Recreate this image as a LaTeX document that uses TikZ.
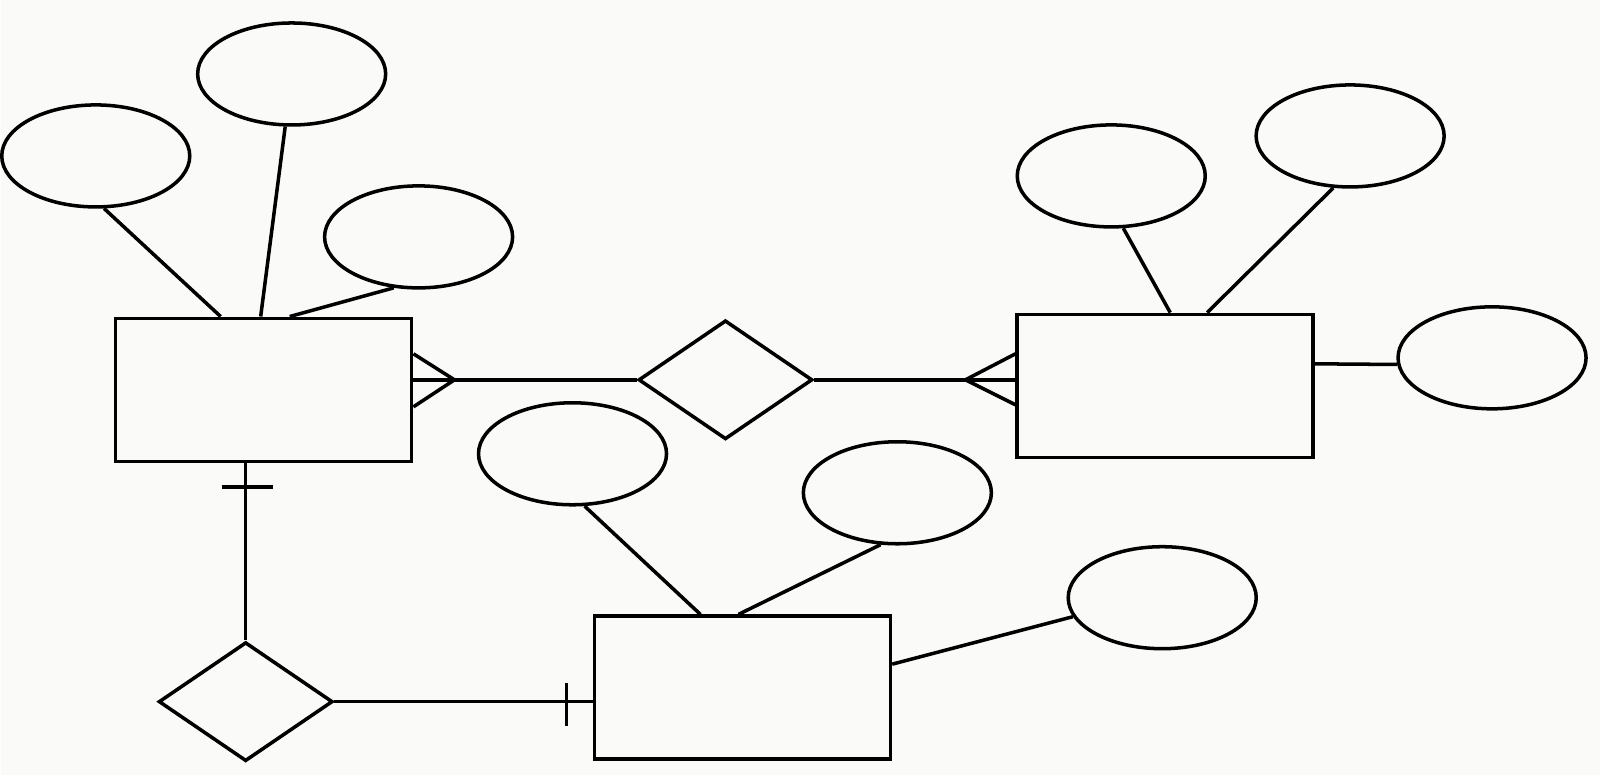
\documentclass[tikz,border=0pt]{standalone}
\usetikzlibrary{shapes.geometric}
\definecolor{paper}{RGB}{250,250,248}
\begin{document}
\begin{tikzpicture}[x=0.01cm,y=-0.01cm,line width=1pt,
  entity/.style={draw,rectangle,minimum width=2.96cm,minimum height=1.43cm,inner sep=0pt},
  attr/.style={draw,ellipse,minimum width=1.88cm,minimum height=1.02cm,inner sep=0pt},
  relation/.style={draw,diamond,minimum width=1.74cm,minimum height=1.19cm,inner sep=0pt}]
  \fill[paper] (0,0) rectangle (1600,775);
  \node[entity] (A) at (263,390) {};
  \node[entity] (B) at (1165,386) {};
  \node[entity] (C) at (742,688) {};
  \node[relation] (R1) at (725,380) {};
  \node[relation] (R2) at (245,702) {};
  \node[attr] (a1) at (95,156) {};
  \node[attr] (a2) at (291,74) {};
  \node[attr] (a3) at (418,237) {};
  \node[attr] (b1) at (1111,176) {};
  \node[attr] (b2) at (1350,136) {};
  \node[attr] (b3) at (1492,358) {};
  \node[attr] (c1) at (572,454) {};
  \node[attr] (c2) at (897,493) {};
  \node[attr] (c3) at (1162,598) {};
  \draw (a1.-81) -- ([xshift=-0.43cm]A.north);
  \draw (a2.-97) -- ([xshift=-0.03cm]A.north);
  \draw (a3.-116) -- ([xshift=0.26cm]A.north);
  \draw (b1.-77) -- ([xshift=0.05cm]B.north);
  \draw (b2.-108) -- ([xshift=0.42cm]B.north);
  \draw (b3.184) -- ([yshift=0.22cm]B.east);
  \draw (c1.-77) -- ([xshift=-0.42cm]C.north);
  \draw (c2.-108) -- ([xshift=-0.04cm]C.north);
  \draw (c3.192) -- ([yshift=0.235cm]C.east);
  \coordinate (fa) at (A.east |- R1.west);
  \coordinate (fb) at (B.west |- R1.east);
  \coordinate (ta) at (R2.north |- A.south);
  \coordinate (tc) at (C.west |- R2.east);
  \draw (fa) -- (R1.west);
  \draw ([yshift=0.26cm]fa) -- ([xshift=0.41cm]fa) -- ([yshift=-0.27cm]fa);
  \draw (R1.east) -- (fb);
  \draw ([yshift=0.26cm]fb) -- ([xshift=-0.5cm]fb) -- ([yshift=-0.25cm]fb);
  \draw (ta) -- (R2.north);
  \draw ([xshift=-0.24cm,yshift=-0.24cm]ta) -- ([xshift=0.27cm,yshift=-0.24cm]ta);
  \draw (R2.east) -- (tc);
  \draw ([xshift=-0.26cm,yshift=0.19cm]tc) -- ([xshift=-0.26cm,yshift=-0.24cm]tc);
\end{tikzpicture}
\end{document}
